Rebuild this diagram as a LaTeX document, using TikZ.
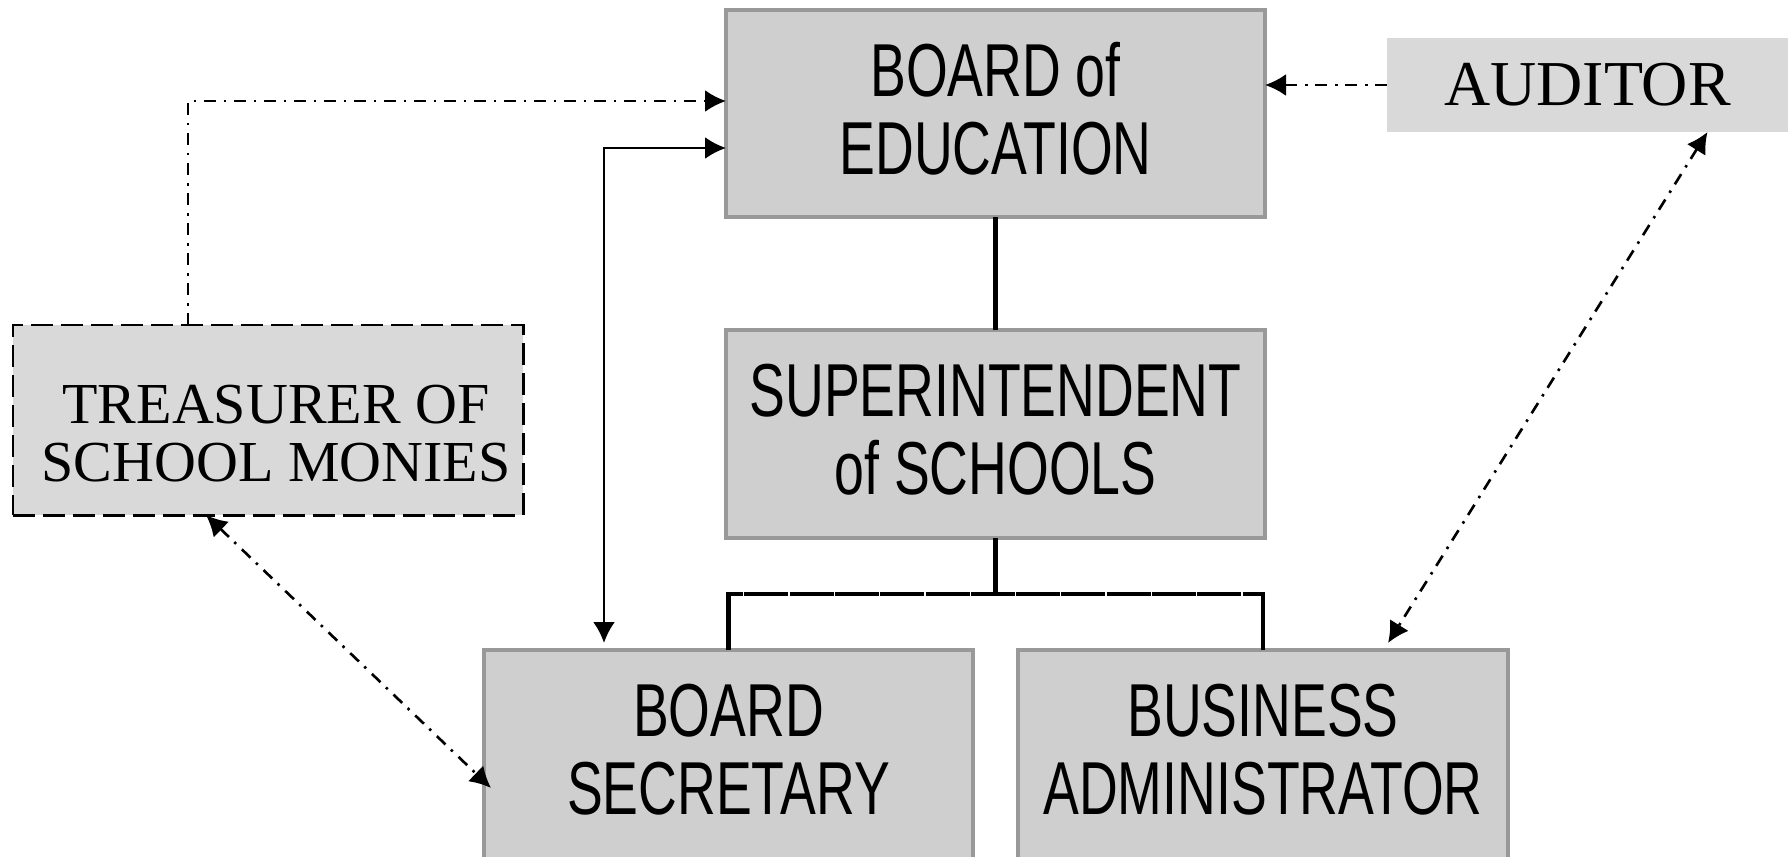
\documentclass[tikz,border=0pt]{standalone}
\usepackage{fontspec}
\setmainfont{Liberation Serif}
\newfontfamily\narrowsans[FakeStretch=0.715]{Liberation Sans}
\usetikzlibrary{positioning, arrows.meta, calc}
\definecolor{boxGray}{HTML}{CFCFCF}
\definecolor{edgeGray}{HTML}{999999}
\definecolor{paleGray}{HTML}{D9D9D9}
\tikzstyle{officebox} =[fill=boxGray, draw=edgeGray, line width=2pt, outer sep=0pt, align=center, font=\narrowsans\fontsize{42.7}{44.2}\selectfont]
\tikzstyle{chainline} =[line width=1.5pt, dash pattern=on 0.24cm off 0.15cm on 0.05cm off 0.16cm]
\tikzstyle{orgline} =[line width=2.4pt, black]

\begin{document}
\begin{tikzpicture}
\useasboundingbox (0,0) rectangle (35.8,-17.12);

\node (boe) [officebox, minimum width=10.78cm, minimum height=4.14cm] at (19.91,-2.27) {BOARD of\\EDUCATION\rule[-0.2cm]{0pt}{0pt}};

\node (sup) [officebox, minimum width=10.78cm, minimum height=4.16cm, below=2.26cm of boe] {SUPERINTENDENT\\of SCHOOLS\rule[-0.2cm]{0pt}{0pt}};

\node (sec) [officebox, minimum width=9.78cm, minimum height=4.2cm, below=2.24cm of sup.south west, xshift=0.05cm] {BOARD\\SECRETARY\rule[-0.24cm]{0pt}{0pt}};

\node (bus) [officebox, minimum width=9.8cm, minimum height=4.2cm, below=2.24cm of sup.south east, xshift=-0.04cm] {BUSINESS\\ADMINISTRATOR\rule[-0.24cm]{0pt}{0pt}};

\node (tre) [fill=paleGray, draw=black, line width=1.7pt, dash pattern=on 0.44cm off 0.16cm, outer sep=0pt, align=center, minimum width=10.2cm, minimum height=3.8cm, font=\fontsize{33}{33}\selectfont, left=4.06cm of sup, yshift=0.28cm] {\rule{0pt}{1.3cm}\hspace*{0.32cm}TREASURER OF\\\hspace*{0.32cm}SCHOOL MONIES};

\node (aud) [fill=paleGray, outer sep=0pt, minimum width=8.02cm, minimum height=1.88cm, font=\fontsize{36.4}{36.4}\selectfont, right=2.44cm of boe, yshift=0.57cm] {AUDITOR};

%chain of command
\coordinate (busbar) at ($(sup.south)+(0,-1.12)$);
\draw[orgline] (boe) -- (sup);
\draw[orgline] (sup) -- (busbar);
\draw[orgline, dash pattern=on 0.88cm off 0.026cm, dash phase=0.54cm]
	(sup.south west |- busbar) -- (sup.south east |- busbar);
\draw[orgline] (sec.north) -- (sec.north |- busbar);
\draw[orgline] (bus.north) -- (bus.north |- busbar);

\draw[{Latex[length=0.42cm, width=0.44cm]}-{Latex[length=0.42cm, width=0.44cm]}, line width=1.5pt, black]
	($(boe.west)+(0,-0.69)$) -| ($(sec.north)+(-2.49,0.14)$);

%reporting lines
\draw[-{Latex[length=0.42cm, width=0.44cm]}, chainline]
	($(tre.north)+(-1.6,0)$) |- ($(boe.west)+(0,0.25)$);

\draw[-{Latex[length=0.42cm, width=0.44cm]}, chainline]
	(aud.west) -- (aud.west -| boe.east);

\draw[{Latex[length=0.42cm, width=0.44cm]}-{Latex[length=0.42cm, width=0.44cm]}, chainline]
	($(aud.south)+(2.4,0)$) -- ($(bus.north)+(2.5,0.14)$);

\draw[{Latex[length=0.42cm, width=0.44cm]}-{Latex[length=0.42cm, width=0.44cm]}, chainline]
	($(tre.south)+(-1.24,0)$) -- ($(sec.north west)+(0.14,-2.76)$);
\end{tikzpicture}
\end{document}
